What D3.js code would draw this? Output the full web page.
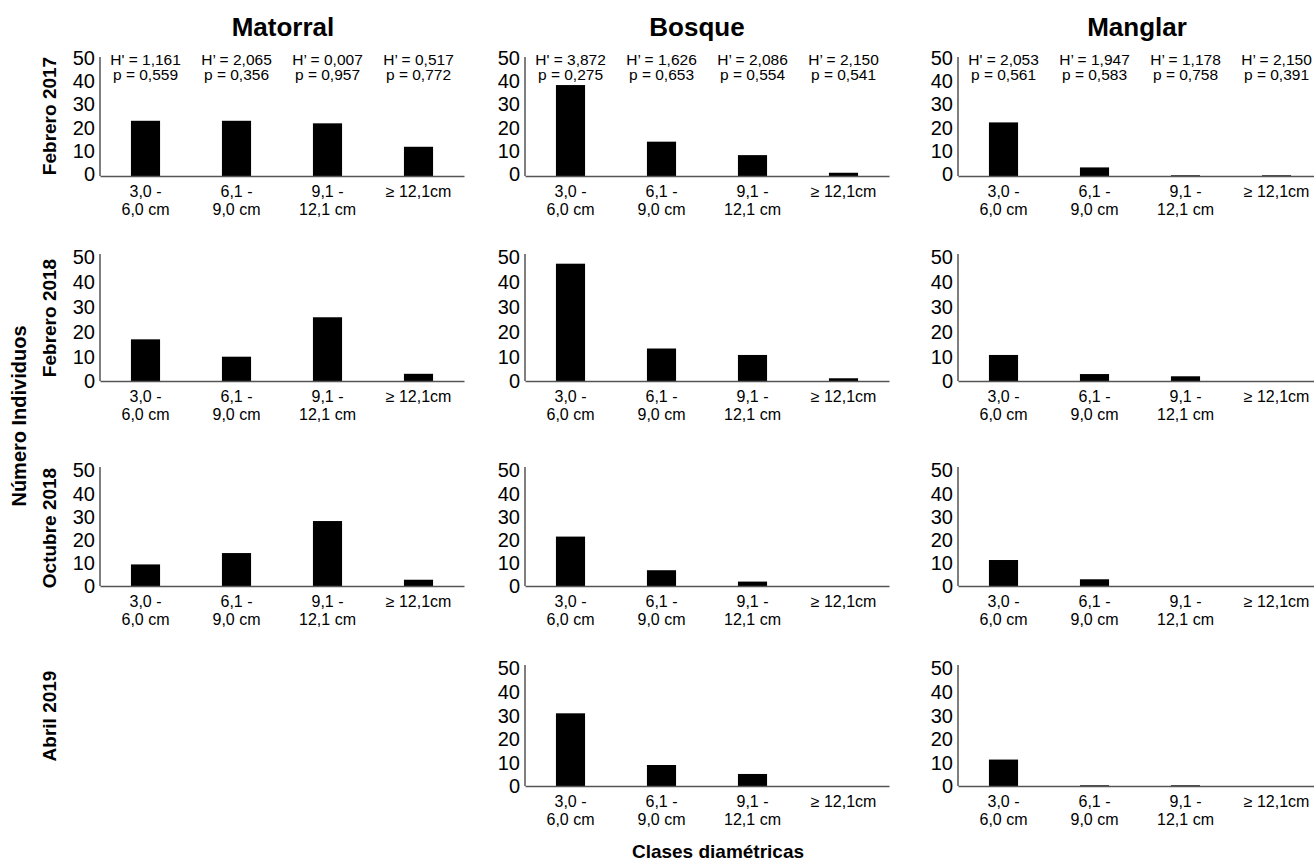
<!DOCTYPE html>
<html>
<head>
<meta charset="utf-8">
<script src="https://cdn.jsdelivr.net/npm/d3@7"></script>
<style>
  html, body { margin: 0; padding: 0; background: #fff; }
  svg { display: block; font-family: "Liberation Sans", Arial, Helvetica, sans-serif; }
</style>
</head>
<body>
<svg id="chart" width="1314" height="863"></svg>
<script>
// ---------- DATA ----------
const habitats = ["Matorral", "Bosque", "Manglar"];
const periods = ["Febrero 2017", "Febrero 2018", "Octubre 2018", "Abril 2019"];
const categories = ["3,0 - 6,0 cm", "6,1 - 9,0 cm", "9,1 - 12,1 cm", "≥ 12,1cm"];
const categoryLines = [["3,0 -", "6,0 cm"], ["6,1 -", "9,0 cm"], ["9,1 -", "12,1 cm"], ["≥ 12,1cm"]];
const yTicks = [0, 10, 20, 30, 40, 50];

// values per period (rows) for each habitat; null = no data panel
const matorral = [
  [23.8, 23.8, 22.7, 12.6],
  [16.8, 9.8, 25.7, 2.9],
  [9.3, 14.2, 28.0, 2.7],
  null
];
const bosque = [
  [39.2, 14.8, 9.0, 1.4],
  [47.3, 13.1, 10.5, 1.1],
  [21.3, 6.8, 1.9, 0],
  [30.8, 8.9, 5.1, 0]
];
const manglar = [
  [23.1, 3.7, 0.3, 0.3],
  [10.5, 2.8, 1.9, 0],
  [11.2, 2.9, 0, 0],
  [11.2, 0.3, 0.3, 0]
];

// Shannon H' and p annotations (first row only)
const hMatorral = ["H' = 1,161", "H’ = 2,065", "H’ = 0,007", "H’ = 0,517"];
const pMatorral = ["p = 0,559", "p = 0,356", "p = 0,957", "p = 0,772"];
const hBosque = ["H' = 3,872", "H’ = 1,626", "H’ = 2,086", "H’ = 2,150"];
const pBosque = ["p = 0,275", "p = 0,653", "p = 0,554", "p = 0,541"];
const hManglar = ["H' = 2,053", "H’ = 1,947", "H’ = 1,178", "H’ = 2,150"];
const pManglar = ["p = 0,561", "p = 0,583", "p = 0,758", "p = 0,391"];

const values = [matorral, bosque, manglar];
const hLabels = [hMatorral, hBosque, hManglar];
const pLabels = [pMatorral, pBosque, pManglar];

// ---------- LAYOUT ----------
const colX = [100, 525, 958];
const colW = 364;
const titleX = [283, 697, 1137];
const rowBase = [176, 381, 586, 786];
const rowTop = [60, 257, 470, 668];
const rowLabelY = [116, 318, 528, 716];

const svg = d3.select("#chart");
const FONT = "'Liberation Sans', Arial, sans-serif";
const axisColor = "#555";

// column titles
habitats.forEach((h, c) => {
  svg.append("text")
    .attr("x", titleX[c]).attr("y", 36)
    .attr("text-anchor", "middle")
    .attr("font-size", 26).attr("font-weight", "bold")
    .text(h);
});

// row labels
periods.forEach((p, r) => {
  svg.append("text")
    .attr("transform", `translate(56,${rowLabelY[r]}) rotate(-90)`)
    .attr("text-anchor", "middle")
    .attr("font-size", 19).attr("font-weight", "bold")
    .text(p);
});

// global y label
svg.append("text")
  .attr("transform", "translate(26,416) rotate(-90)")
  .attr("text-anchor", "middle")
  .attr("font-size", 20).attr("font-weight", "bold")
  .text("Número Individuos");

// global x label
svg.append("text")
  .attr("x", 718).attr("y", 858)
  .attr("text-anchor", "middle")
  .attr("font-size", 19).attr("font-weight", "bold")
  .text("Clases diamétricas");

// panels
habitats.forEach((h, c) => {
  const x = d3.scaleBand()
    .domain(categories)
    .range([colX[c], colX[c] + colW])
    .paddingInner(0.68)
    .paddingOuter(0.34);

  periods.forEach((p, r) => {
    const data = values[c][r];
    if (!data) return;
    const y = d3.scaleLinear().domain([0, 50]).range([rowBase[r], rowTop[r]]);
    const g = svg.append("g");

    // bars
    g.selectAll("rect")
      .data(data)
      .join("rect")
      .attr("x", (d, i) => x(categories[i]))
      .attr("width", x.bandwidth())
      .attr("y", d => y(d))
      .attr("height", d => y(0) - y(d))
      .attr("fill", "#000");

    // y axis (labels only) via d3 axis
    const yAxis = g.append("g")
      .attr("transform", `translate(${colX[c]},0)`)
      .call(d3.axisLeft(y).tickValues(yTicks).tickSize(0).tickPadding(5));
    yAxis.select(".domain").remove();
    yAxis.selectAll("text")
      .attr("font-size", 20).attr("font-family", FONT).attr("fill", "#000")
      .attr("dy", r === 0 ? "0.22em" : "0.34em");

    // y axis line
    g.append("line")
      .attr("x1", colX[c]).attr("x2", colX[c])
      .attr("y1", y(0)).attr("y2", y(50) - 3)
      .attr("stroke", axisColor).attr("stroke-width", 1.5);

    // x axis via d3 axis
    const xAxis = g.append("g")
      .attr("transform", `translate(0,${y(0)})`)
      .call(d3.axisBottom(x).tickSize(0).tickSizeOuter(0).tickFormat(() => ""));
    xAxis.select(".domain").attr("stroke", axisColor).attr("stroke-width", 1.5);
    xAxis.selectAll(".tick text").each(function (d, i) {
      const t = d3.select(this)
        .attr("font-size", 16).attr("font-family", FONT).attr("fill", "#000")
        .attr("y", 0).attr("dy", null);
      categoryLines[i].forEach((line, k) => {
        t.append("tspan").attr("x", 0).attr("y", 20.5 + k * 18).text(line);
      });
    });

    // annotations (first row)
    if (r === 0) {
      categories.forEach((cat, i) => {
        const cx = x(cat) + x.bandwidth() / 2;
        g.append("text").attr("x", cx).attr("y", 65)
          .attr("text-anchor", "middle").attr("font-size", 15.5)
          .text(hLabels[c][i]);
        g.append("text").attr("x", cx).attr("y", 80)
          .attr("text-anchor", "middle").attr("font-size", 15.5)
          .text(pLabels[c][i]);
      });
    }
  });
});
</script>
</body>
</html>
